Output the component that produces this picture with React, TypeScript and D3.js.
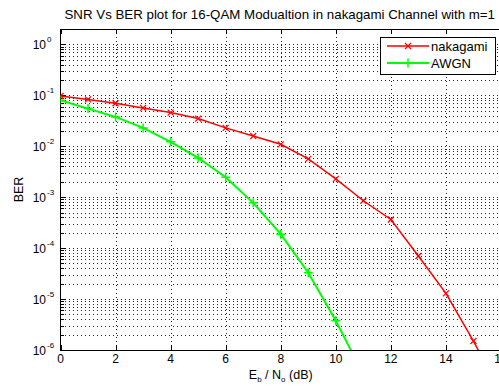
import React from "react";
import * as d3 from "d3";

// Eb/No points (dB)
const snr = [0, 1, 2, 3, 4, 5, 6, 7, 8, 9, 10, 11, 12, 13, 14, 15, 16];
// BER
const nakagami = [0.097, 0.083, 0.0697, 0.0564, 0.0457, 0.0349, 0.0229, 0.0159, 0.0109, 0.00564,
  0.00229, 8.5e-4, 3.65e-4, 7.0e-5, 1.29e-5, 1.5e-6, 1.4e-7];
const awgnSnr = [0, 1, 2, 3, 4, 5, 6, 7, 8, 9, 10, 11];
const awgn = [0.0797, 0.0548, 0.0376, 0.0229, 0.0122, 0.0059, 0.00247, 7.74e-4, 1.88e-4,
  3.28e-5, 3.76e-6, 3.3e-7];
const xTicks = [0, 2, 4, 6, 8, 10, 12, 14, 16];
const yDecades = [-6, -5, -4, -3, -2, -1, 0];

const W = 499;
const H = 387;
const left = 60.5, right = 501, top = 29, bottom = 350;
const font = "'Liberation Sans', Arial, sans-serif";

export default function App() {
  const x = d3.scaleLinear().domain([0, 16]).range([left, right]);
  const y = d3.scaleLog().domain([1e-6, 2]).range([bottom, top]);

  const minors: number[] = [];
  yDecades.forEach(d => {
    for (let k = 2; k <= 9; k++) {
      const v = k * Math.pow(10, d);
      if (v < 2) minors.push(v);
    }
  });

  const line = d3.line<[number, number]>()
    .x(d => x(d[0]))
    .y(d => y(d[1]));

  const redPts: [number, number][] = snr.map((s, i) => [s, nakagami[i]]);
  const greenPts: [number, number][] = awgnSnr.map((s, i) => [s, awgn[i]]);

  const xMark = (cx: number, cy: number, r: number, key: any, color: string, w: number) => (
    <path key={key} d={`M${cx - r},${cy - r}L${cx + r},${cy + r}M${cx - r},${cy + r}L${cx + r},${cy - r}`}
      stroke={color} strokeWidth={w} fill="none" />
  );
  const plusMark = (cx: number, cy: number, r: number, key: any, color: string, w: number) => (
    <path key={key} d={`M${cx - r},${cy}L${cx + r},${cy}M${cx},${cy - r}L${cx},${cy + r}`}
      stroke={color} strokeWidth={w} fill="none" />
  );

  const grid = "#222";
  const dash = "1,3";

  return (
    <svg width={W} height={H} style={{ position: "absolute", left: 0, top: 0, background: "#fff" }}
      fontFamily={font}>
      <defs>
        <clipPath id="plot">
          <rect x={left} y={top} width={right - left} height={bottom - top} />
        </clipPath>
      </defs>
      <rect x={left} y={top} width={right - left} height={bottom - top} fill="#fff" />

      {/* grid */}
      <g shapeRendering="crispEdges" stroke={grid} strokeWidth={1} strokeDasharray={dash}>
        {minors.map(v => (
          <line key={"m" + v} x1={left} x2={right} y1={Math.round(y(v)) + 0.5} y2={Math.round(y(v)) + 0.5} />
        ))}
        {yDecades.slice(1).map(d => (
          <line key={"d" + d} x1={left} x2={right} y1={Math.round(y(Math.pow(10, d))) + 0.5}
            y2={Math.round(y(Math.pow(10, d))) + 0.5} />
        ))}
        {xTicks.slice(1).map(t => (
          <line key={"x" + t} x1={Math.round(x(t)) + 0.5} x2={Math.round(x(t)) + 0.5} y1={top} y2={bottom} />
        ))}
      </g>

      {/* ticks */}
      <g stroke="#000" strokeWidth={1} shapeRendering="crispEdges">
        {xTicks.map(t => (
          <g key={"t" + t}>
            <line x1={Math.round(x(t)) + 0.5} x2={Math.round(x(t)) + 0.5} y1={bottom} y2={bottom - 5} />
            <line x1={Math.round(x(t)) + 0.5} x2={Math.round(x(t)) + 0.5} y1={top} y2={top + 5} />
          </g>
        ))}
        {yDecades.map(d => (
          <line key={"yt" + d} x1={left} x2={left + 5} y1={Math.round(y(Math.pow(10, d))) + 0.5}
            y2={Math.round(y(Math.pow(10, d))) + 0.5} />
        ))}
        {minors.map(v => (
          <line key={"ym" + v} x1={left} x2={left + 3} y1={Math.round(y(v)) + 0.5} y2={Math.round(y(v)) + 0.5} />
        ))}
        <rect x={left} y={top + 0.5} width={right - left} height={bottom - top} fill="none" />
      </g>

      {/* series */}
      <g clipPath="url(#plot)">
        <path d={line(redPts) || ""} fill="none" stroke="#ff0000" strokeWidth={1.5} />
        {redPts.map((p, i) => xMark(x(p[0]), y(p[1]), 3, "r" + i, "#ff0000", 1.2))}
        <path d={line(greenPts) || ""} fill="none" stroke="#00ff00" strokeWidth={2} />
        {greenPts.map((p, i) => plusMark(x(p[0]), y(p[1]), 4.5, "g" + i, "#00ff00", 1.5))}
      </g>

      {/* tick labels */}
      <g fontSize={12} fill="#000">
        {xTicks.map(t => (
          <text key={"xl" + t} x={x(t)} y={bottom + 13} textAnchor="middle">{t}</text>
        ))}
        {yDecades.map(d => (
          <g key={"yl" + d}>
            <text x={46} y={y(Math.pow(10, d)) + 5} textAnchor="end">10</text>
            <text x={47} y={y(Math.pow(10, d)) - 2} fontSize={8}>{d}</text>
          </g>
        ))}
      </g>

      {/* axis labels and title */}
      <text x={(left + right) / 2 - 1} y={18.5} textAnchor="middle" fontSize={13.3}>
        SNR Vs BER plot for 16-QAM Modualtion in nakagami Channel with m=1
      </text>
      <text transform={`translate(23,${(top + bottom) / 2}) rotate(-90)`} textAnchor="middle" fontSize={12.5}>BER</text>
      <text x={(left + right) / 2} y={379} textAnchor="middle" fontSize={12.5}>
        E<tspan fontSize={8} dy={3}>b</tspan><tspan dy={-3}> / N</tspan><tspan fontSize={8} dy={3}>o</tspan><tspan dy={-3}> (dB)</tspan>
      </text>

      {/* legend */}
      <g>
        <rect x={380.5} y={37.5} width={115} height={37} fill="#fff" stroke="#000" strokeWidth={1} shapeRendering="crispEdges" />
        <line x1={387} x2={429} y1={46} y2={46} stroke="#ff0000" strokeWidth={1.5} />
        {xMark(408, 46, 3, "lx", "#ff0000", 1.2)}
        <line x1={387} x2={429} y1={63} y2={63} stroke="#00ff00" strokeWidth={2} />
        {plusMark(408, 63, 4.5, "lp", "#00ff00", 1.5)}
        <text x={431} y={50.5} fontSize={13}>nakagami</text>
        <text x={431} y={67.5} fontSize={13}>AWGN</text>
      </g>
    </svg>
  );
}
